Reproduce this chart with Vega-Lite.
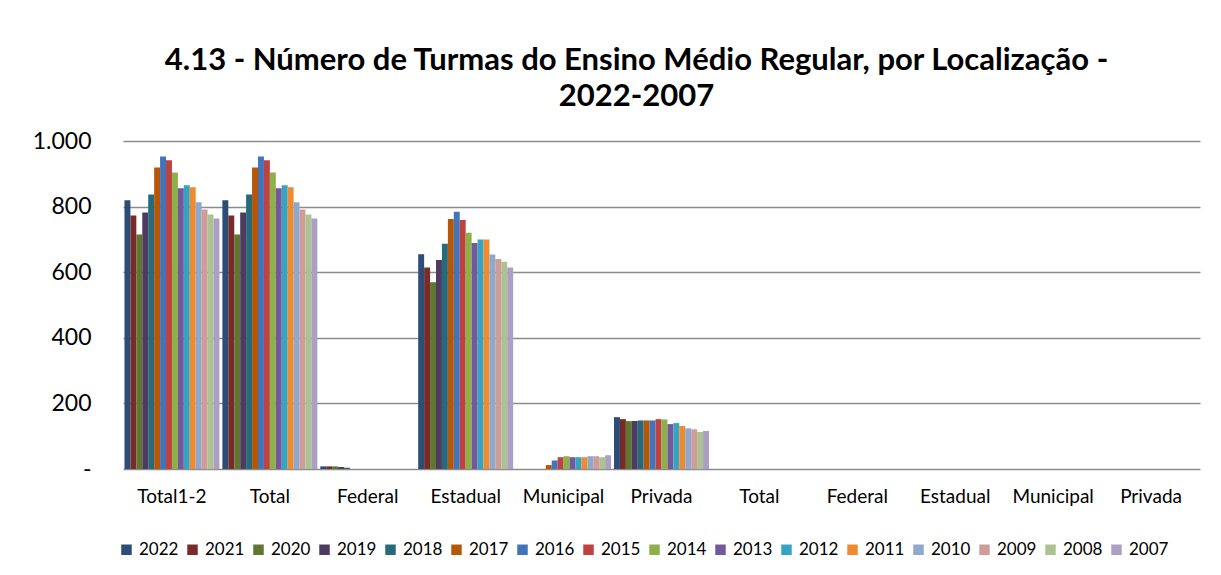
{
  "$schema": "https://vega.github.io/schema/vega-lite/v6.json",
  "autosize": {"type": "none"},
  "width": 1077,
  "height": 328,
  "padding": {"left": 123, "top": 141, "right": 21, "bottom": 106},
  "background": "white",
  "title": {
    "text": ["4.13 - Número de Turmas do Ensino Médio Regular, por Localização -", "2022-2007"],
    "font": "Lato",
    "fontSize": 31,
    "fontWeight": "bold",
    "color": "#000000",
    "anchor": "middle",
    "dx": -25,
    "offset": 17,
    "lineHeight": 36
  },
  "config": {
    "font": "Lato",
    "view": {"stroke": null},
    "axis": {"labelColor": "#000000", "domain": false, "ticks": false, "tickSize": 0}
  },
  "data": {"values": [
    {"c":"Total1-2","a":"2022","v":819},{"c":"Total1-2","a":"2021","v":773},{"c":"Total1-2","a":"2020","v":715},{"c":"Total1-2","a":"2019","v":782},
    {"c":"Total1-2","a":"2018","v":837},{"c":"Total1-2","a":"2017","v":919},{"c":"Total1-2","a":"2016","v":953},{"c":"Total1-2","a":"2015","v":941},
    {"c":"Total1-2","a":"2014","v":904},{"c":"Total1-2","a":"2013","v":856},{"c":"Total1-2","a":"2012","v":865},{"c":"Total1-2","a":"2011","v":859},
    {"c":"Total1-2","a":"2010","v":813},{"c":"Total1-2","a":"2009","v":791},{"c":"Total1-2","a":"2008","v":776},{"c":"Total1-2","a":"2007","v":764},
    {"c":"Total","a":"2022","v":819},{"c":"Total","a":"2021","v":773},{"c":"Total","a":"2020","v":715},{"c":"Total","a":"2019","v":782},
    {"c":"Total","a":"2018","v":837},{"c":"Total","a":"2017","v":919},{"c":"Total","a":"2016","v":953},{"c":"Total","a":"2015","v":941},
    {"c":"Total","a":"2014","v":904},{"c":"Total","a":"2013","v":856},{"c":"Total","a":"2012","v":865},{"c":"Total","a":"2011","v":859},
    {"c":"Total","a":"2010","v":813},{"c":"Total","a":"2009","v":791},{"c":"Total","a":"2008","v":776},{"c":"Total","a":"2007","v":764},
    {"c":"Federal","a":"2022","v":8},{"c":"Federal","a":"2021","v":8},{"c":"Federal","a":"2020","v":8},{"c":"Federal","a":"2019","v":6},
    {"c":"Federal","a":"2018","v":4},{"c":"Federal","a":"2017","v":0},{"c":"Federal","a":"2016","v":0},{"c":"Federal","a":"2015","v":0},
    {"c":"Federal","a":"2014","v":0},{"c":"Federal","a":"2013","v":0},{"c":"Federal","a":"2012","v":0},{"c":"Federal","a":"2011","v":0},
    {"c":"Federal","a":"2010","v":0},{"c":"Federal","a":"2009","v":0},{"c":"Federal","a":"2008","v":0},{"c":"Federal","a":"2007","v":0},
    {"c":"Estadual","a":"2022","v":655},{"c":"Estadual","a":"2021","v":614},{"c":"Estadual","a":"2020","v":569},{"c":"Estadual","a":"2019","v":637},
    {"c":"Estadual","a":"2018","v":687},{"c":"Estadual","a":"2017","v":762},{"c":"Estadual","a":"2016","v":784},{"c":"Estadual","a":"2015","v":759},
    {"c":"Estadual","a":"2014","v":720},{"c":"Estadual","a":"2013","v":689},{"c":"Estadual","a":"2012","v":700},{"c":"Estadual","a":"2011","v":700},
    {"c":"Estadual","a":"2010","v":654},{"c":"Estadual","a":"2009","v":640},{"c":"Estadual","a":"2008","v":632},{"c":"Estadual","a":"2007","v":614},
    {"c":"Municipal","a":"2022","v":0},{"c":"Municipal","a":"2021","v":0},{"c":"Municipal","a":"2020","v":0},{"c":"Municipal","a":"2019","v":0},
    {"c":"Municipal","a":"2018","v":0},{"c":"Municipal","a":"2017","v":12},{"c":"Municipal","a":"2016","v":26},{"c":"Municipal","a":"2015","v":36},
    {"c":"Municipal","a":"2014","v":39},{"c":"Municipal","a":"2013","v":36},{"c":"Municipal","a":"2012","v":36},{"c":"Municipal","a":"2011","v":36},
    {"c":"Municipal","a":"2010","v":39},{"c":"Municipal","a":"2009","v":39},{"c":"Municipal","a":"2008","v":36},{"c":"Municipal","a":"2007","v":42},
    {"c":"Privada","a":"2022","v":158},{"c":"Privada","a":"2021","v":152},{"c":"Privada","a":"2020","v":146},{"c":"Privada","a":"2019","v":146},
    {"c":"Privada","a":"2018","v":148},{"c":"Privada","a":"2017","v":148},{"c":"Privada","a":"2016","v":148},{"c":"Privada","a":"2015","v":152},
    {"c":"Privada","a":"2014","v":151},{"c":"Privada","a":"2013","v":137},{"c":"Privada","a":"2012","v":140},{"c":"Privada","a":"2011","v":131},
    {"c":"Privada","a":"2010","v":124},{"c":"Privada","a":"2009","v":121},{"c":"Privada","a":"2008","v":113},{"c":"Privada","a":"2007","v":116}
  ]},
  "mark": {"type": "bar"},
  "encoding": {
    "x": {
      "field": "c",
      "type": "nominal",
      "scale": {
        "domain": ["Total1-2","Total","Federal","Estadual","Municipal","Privada","Total|2","Federal|2","Estadual|2","Municipal|2","Privada|2"],
        "paddingInner": 0.03,
        "paddingOuter": 0.015
      },
      "axis": {
        "title": null,
        "labelAngle": 0,
        "labelFontSize": 19,
        "labelPadding": 18,
        "labelExpr": "split(datum.label, '|')[0]",
        "grid": false
      }
    },
    "xOffset": {
      "field": "a",
      "type": "nominal",
      "scale": {
        "domain": ["2022","2021","2020","2019","2018","2017","2016","2015","2014","2013","2012","2011","2010","2009","2008","2007"],
        "paddingInner": 0,
        "paddingOuter": 0
      }
    },
    "y": {
      "field": "v",
      "type": "quantitative",
      "scale": {"domain": [0, 1000], "nice": false},
      "axis": {
        "title": null,
        "values": [0, 200, 400, 600, 800, 1000],
        "labelFontSize": 23,
        "labelPadding": 32,
        "labelExpr": "datum.value == 0 ? '-\u00a0\u00a0\u00a0' : replace(format(datum.value, ','), ',', '.')",
        "grid": true,
        "gridColor": "#8C8C8C",
        "gridWidth": 1.5
      }
    },
    "color": {
      "field": "a",
      "type": "nominal",
      "scale": {
        "domain": ["2022","2021","2020","2019","2018","2017","2016","2015","2014","2013","2012","2011","2010","2009","2008","2007"],
        "range": ["#2C4D75","#772C2A","#5F7530","#4D3B62","#276A7C","#B65708","#4174B8","#BE4240","#8DB048","#74589C","#35A3C2","#EF8A2E","#8FA9CD","#D09C9A","#ACC290","#AC9EC4"]
      },
      "legend": {
        "title": null,
        "orient": "none",
        "direction": "horizontal",
        "columns": 16,
        "legendX": -5,
        "legendY": 400,
        "symbolType": "square",
        "symbolSize": 110,
        "symbolStrokeWidth": 0,
        "labelFontSize": 17,
        "labelColor": "#000000",
        "labelOffset": 4,
        "columnPadding": 5
      }
    }
  }
}
